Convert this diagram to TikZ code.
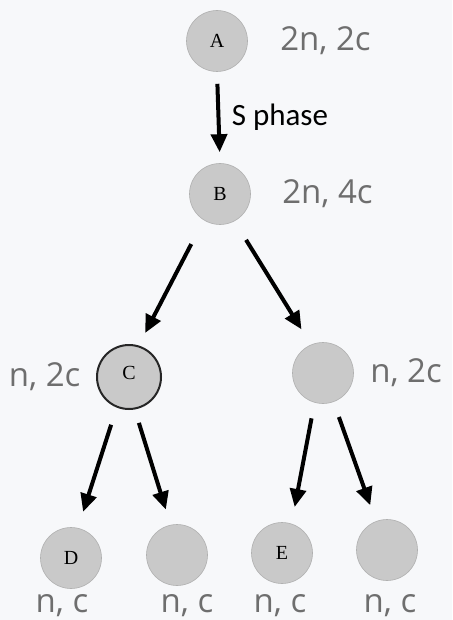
\documentclass[tikz,border=0pt]{standalone}
\usepackage{fontspec}
\setmainfont{Liberation Serif}
\newfontfamily\capfont{Carlito}
\newfontfamily\handfont{Open Sans}
\usetikzlibrary{positioning,arrows.meta}
\definecolor{cellfill}{HTML}{C9C9C9}
\definecolor{celledge}{HTML}{B0B0B0}
\definecolor{pencil}{HTML}{6E6E6E}
\definecolor{paper}{HTML}{F7F8FA}
\begin{document}
\begin{tikzpicture}[x=1pt,y=-1pt,
  cell/.style={circle,fill=cellfill,draw=celledge,line width=.6pt,minimum size=61pt,inner sep=0pt,font=\fontsize{20}{20}\selectfont},
  traced/.style={cell,draw=black!85,line width=2pt,minimum size=64pt},
  hw/.style={text=pencil,font=\handfont\fontsize{33}{33}\selectfont},
  ar/.style={-{Triangle[length=18pt,width=16pt]},line width=4pt,shorten <=16pt,shorten >=17pt}]
\useasboundingbox[fill=paper] (0,0) rectangle (452,620);
% cells
\node[cell] (A) at (217,41) {A};
\node[cell] (B) at (220,194) {B};
\node[traced] (C) at (129,377) {\raisebox{8pt}{C}};
\node[cell] (R) at (323,373) {};
\node[cell] (D) at (71,558) {D};
\node[cell] (F) at (177,555) {};
\node[cell] (E) at (282,553) {E};
\node[cell] (G) at (387,550) {};
% divisions
\draw[ar,shorten <=12pt,shorten >=11pt] (A.south) -- (B.north)
  node[midway,right=8pt,font=\capfont\fontsize{31}{31}\selectfont] {S phase};
\draw[ar,shorten <=27pt,shorten >=14pt] (B.238) -- (C.73);
\draw[ar,shorten <=22pt,shorten >=18pt] (B.298) -- (R.113);
\draw[ar,shorten <=18pt] (C.248) -- (D.77);
\draw[ar,shorten <=14pt,shorten >=16pt] (C.280) -- (F.102);
\draw[ar] (R.254) -- (E.72);
\draw[ar] (R.290) -- (G.111);
% ploidy / chromatid counts
\node[hw,right=29pt of A] (lA) {2n, 2c};
\node[hw,right=28pt of B] (lB) {2n, 4c};
\node[hw,left=12pt of C] (lC) {n, 2c};
\node[hw,right=13pt of R] (lR) {n, 2c};
\node[hw] (lD) at (62,606) {n, c};
\node[hw] (lF) at (187,606) {n, c};
\node[hw] (lE) at (280,606) {n, c};
\node[hw] (lG) at (390,606) {n, c};
\end{tikzpicture}
\end{document}
